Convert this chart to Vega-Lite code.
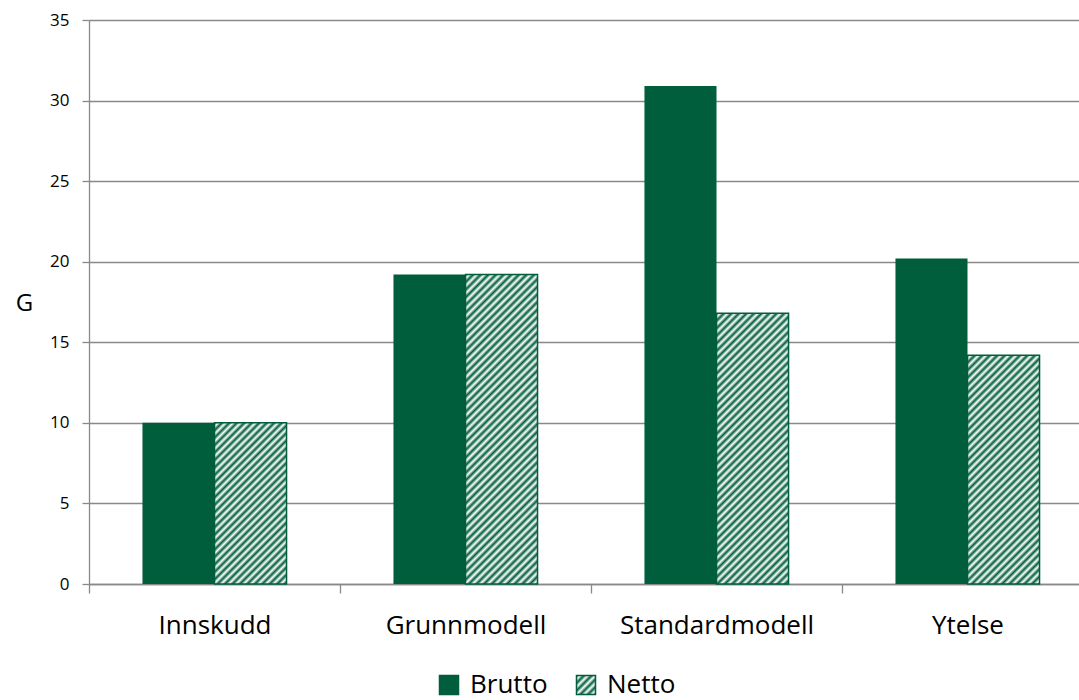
{
  "$schema": "https://vega.github.io/schema/vega-lite/v6.json",
  "autosize": "none",
  "width": 990,
  "height": 564,
  "padding": {"left": 89, "top": 20, "right": 0, "bottom": 116},
  "background": "#ffffff",
  "config": {
    "view": {"stroke": null},
    "font": "Open Sans"
  },
  "data": {
    "values": [
      {"kategori": "Innskudd", "serie": "Brutto", "verdi": 10.0},
      {"kategori": "Innskudd", "serie": "Netto", "verdi": 10.0},
      {"kategori": "Grunnmodell", "serie": "Brutto", "verdi": 19.2},
      {"kategori": "Grunnmodell", "serie": "Netto", "verdi": 19.2},
      {"kategori": "Standardmodell", "serie": "Brutto", "verdi": 30.9},
      {"kategori": "Standardmodell", "serie": "Netto", "verdi": 16.8},
      {"kategori": "Ytelse", "serie": "Brutto", "verdi": 20.2},
      {"kategori": "Ytelse", "serie": "Netto", "verdi": 14.2}
    ]
  },
  "encoding": {
    "x": {
      "field": "kategori",
      "type": "nominal",
      "sort": ["Innskudd", "Grunnmodell", "Standardmodell", "Ytelse"],
      "scale": {"paddingInner": 0.426, "paddingOuter": 0.213, "range": [0, 1004]},
      "axis": {
        "title": null,
        "labelAngle": 0,
        "labelFont": "Open Sans",
        "labelFontSize": 26,
        "labelColor": "#000000",
        "labelPadding": 19,
        "labelLimit": 0,
        "tickOffset": -125.5,
        "labelOffset": 125.5,
        "tickSize": 9,
        "tickColor": "#898989",
        "tickWidth": 1.3,
        "domainColor": "#898989",
        "domainWidth": 1.3,
        "grid": false
      }
    },
    "xOffset": {"field": "serie", "type": "nominal", "sort": ["Brutto", "Netto"]},
    "y": {
      "field": "verdi",
      "type": "quantitative",
      "scale": {"domain": [0, 35], "nice": false},
      "axis": {
        "values": [0, 5, 10, 15, 20, 25, 30, 35],
        "title": "G",
        "titleAngle": 0,
        "titleFont": "Open Sans",
        "titleFontSize": 24,
        "titleFontWeight": "normal",
        "titleColor": "#000000",
        "titleX": -65,
        "titleY": 283,
        "titleAlign": "center",
        "titleBaseline": "middle",
        "labelFont": "Open Sans",
        "labelFontSize": 17,
        "labelColor": "#000000",
        "labelPadding": 13,
        "tickSize": 7,
        "tickColor": "#898989",
        "tickWidth": 1.3,
        "domainColor": "#898989",
        "domainWidth": 1.3,
        "grid": true,
        "gridColor": "#898989",
        "gridWidth": 1.3
      }
    }
  },
  "layer": [
    {
      "mark": {"type": "bar"},
      "encoding": {
        "color": {
          "field": "serie",
          "type": "nominal",
          "scale": {
            "domain": ["Brutto", "Netto"],
            "range": [
              "#005e3c",
              {"expr": "{gradient: 'linear', x1: 0, y1: 0, x2: 1, y2: 1, stops: [{offset: 0, color: '#005e3c'}, {offset: 0.1, color: '#ffffff'}, {offset: 0.2, color: '#005e3c'}, {offset: 0.3, color: '#ffffff'}, {offset: 0.4, color: '#005e3c'}, {offset: 0.5, color: '#ffffff'}, {offset: 0.6, color: '#005e3c'}, {offset: 0.7, color: '#ffffff'}, {offset: 0.8, color: '#005e3c'}, {offset: 0.9, color: '#ffffff'}, {offset: 1, color: '#005e3c'}]}"}
            ]
          },
          "legend": {
            "title": null,
            "orient": "none",
            "direction": "horizontal",
            "legendX": 347,
            "legendY": 652,
            "symbolType": "square",
            "symbolSize": 361,
            "symbolStrokeColor": "#005e3c",
            "symbolStrokeWidth": 1.5,
            "symbolOpacity": 1,
            "labelFont": "Open Sans",
            "labelFontSize": 26,
            "labelColor": "#000000",
            "labelOffset": 8,
            "columnPadding": 25
          }
        }
      }
    },
    {
      "transform": [{"filter": "datum.serie === 'Netto'"}],
      "mark": {"type": "bar", "stroke": "#005e3c", "strokeWidth": 1.5},
      "encoding": {
        "fill": {
          "condition": [
            {
              "test": "datum.kategori === 'Innskudd'",
              "value": {
                "gradient": "linear", "x1": 0, "y1": 0, "x2": 0.539, "y2": 1.2061,
                "stops": [
                  {"offset": 0, "color": "#005e3c"}, {"offset": 0.016, "color": "#ffffff"},
                  {"offset": 0.032, "color": "#005e3c"}, {"offset": 0.048, "color": "#ffffff"},
                  {"offset": 0.064, "color": "#005e3c"}, {"offset": 0.08, "color": "#ffffff"},
                  {"offset": 0.096, "color": "#005e3c"}, {"offset": 0.112, "color": "#ffffff"},
                  {"offset": 0.128, "color": "#005e3c"}, {"offset": 0.144, "color": "#ffffff"},
                  {"offset": 0.16, "color": "#005e3c"}, {"offset": 0.176, "color": "#ffffff"},
                  {"offset": 0.192, "color": "#005e3c"}, {"offset": 0.208, "color": "#ffffff"},
                  {"offset": 0.224, "color": "#005e3c"}, {"offset": 0.24, "color": "#ffffff"},
                  {"offset": 0.256, "color": "#005e3c"}, {"offset": 0.272, "color": "#ffffff"},
                  {"offset": 0.288, "color": "#005e3c"}, {"offset": 0.304, "color": "#ffffff"},
                  {"offset": 0.32, "color": "#005e3c"}, {"offset": 0.336, "color": "#ffffff"},
                  {"offset": 0.352, "color": "#005e3c"}, {"offset": 0.368, "color": "#ffffff"},
                  {"offset": 0.384, "color": "#005e3c"}, {"offset": 0.4, "color": "#ffffff"},
                  {"offset": 0.416, "color": "#005e3c"}, {"offset": 0.432, "color": "#ffffff"},
                  {"offset": 0.448, "color": "#005e3c"}, {"offset": 0.464, "color": "#ffffff"},
                  {"offset": 0.48, "color": "#005e3c"}, {"offset": 0.496, "color": "#ffffff"},
                  {"offset": 0.512, "color": "#005e3c"}, {"offset": 0.528, "color": "#ffffff"},
                  {"offset": 0.544, "color": "#005e3c"}, {"offset": 0.56, "color": "#ffffff"},
                  {"offset": 0.576, "color": "#005e3c"}, {"offset": 0.592, "color": "#ffffff"},
                  {"offset": 0.608, "color": "#005e3c"}, {"offset": 0.624, "color": "#ffffff"},
                  {"offset": 0.64, "color": "#005e3c"}, {"offset": 0.656, "color": "#ffffff"},
                  {"offset": 0.672, "color": "#005e3c"}, {"offset": 0.688, "color": "#ffffff"},
                  {"offset": 0.704, "color": "#005e3c"}, {"offset": 0.72, "color": "#ffffff"},
                  {"offset": 0.736, "color": "#005e3c"}, {"offset": 0.752, "color": "#ffffff"},
                  {"offset": 0.768, "color": "#005e3c"}, {"offset": 0.784, "color": "#ffffff"},
                  {"offset": 0.8, "color": "#005e3c"}, {"offset": 0.816, "color": "#ffffff"},
                  {"offset": 0.832, "color": "#005e3c"}, {"offset": 0.848, "color": "#ffffff"},
                  {"offset": 0.864, "color": "#005e3c"}, {"offset": 0.88, "color": "#ffffff"},
                  {"offset": 0.896, "color": "#005e3c"}, {"offset": 0.912, "color": "#ffffff"},
                  {"offset": 0.928, "color": "#005e3c"}, {"offset": 0.944, "color": "#ffffff"},
                  {"offset": 0.96, "color": "#005e3c"}, {"offset": 0.976, "color": "#ffffff"},
                  {"offset": 0.992, "color": "#005e3c"}, {"offset": 1, "color": "#ffffff"}
                ]
              }
            },
            {
              "test": "datum.kategori === 'Grunnmodell'",
              "value": {
                "gradient": "linear", "x1": 0, "y1": 0, "x2": 0.27212, "y2": 1.16937,
                "stops": [
                  {"offset": 0, "color": "#005e3c"}, {"offset": 0.01, "color": "#ffffff"},
                  {"offset": 0.02, "color": "#005e3c"}, {"offset": 0.03, "color": "#ffffff"},
                  {"offset": 0.04, "color": "#005e3c"}, {"offset": 0.05, "color": "#ffffff"},
                  {"offset": 0.06, "color": "#005e3c"}, {"offset": 0.07, "color": "#ffffff"},
                  {"offset": 0.08, "color": "#005e3c"}, {"offset": 0.09, "color": "#ffffff"},
                  {"offset": 0.1, "color": "#005e3c"}, {"offset": 0.11, "color": "#ffffff"},
                  {"offset": 0.12, "color": "#005e3c"}, {"offset": 0.13, "color": "#ffffff"},
                  {"offset": 0.14, "color": "#005e3c"}, {"offset": 0.15, "color": "#ffffff"},
                  {"offset": 0.16, "color": "#005e3c"}, {"offset": 0.17, "color": "#ffffff"},
                  {"offset": 0.18, "color": "#005e3c"}, {"offset": 0.19, "color": "#ffffff"},
                  {"offset": 0.2, "color": "#005e3c"}, {"offset": 0.21, "color": "#ffffff"},
                  {"offset": 0.22, "color": "#005e3c"}, {"offset": 0.23, "color": "#ffffff"},
                  {"offset": 0.24, "color": "#005e3c"}, {"offset": 0.25, "color": "#ffffff"},
                  {"offset": 0.26, "color": "#005e3c"}, {"offset": 0.27, "color": "#ffffff"},
                  {"offset": 0.28, "color": "#005e3c"}, {"offset": 0.29, "color": "#ffffff"},
                  {"offset": 0.3, "color": "#005e3c"}, {"offset": 0.31, "color": "#ffffff"},
                  {"offset": 0.32, "color": "#005e3c"}, {"offset": 0.33, "color": "#ffffff"},
                  {"offset": 0.34, "color": "#005e3c"}, {"offset": 0.35, "color": "#ffffff"},
                  {"offset": 0.36, "color": "#005e3c"}, {"offset": 0.37, "color": "#ffffff"},
                  {"offset": 0.38, "color": "#005e3c"}, {"offset": 0.39, "color": "#ffffff"},
                  {"offset": 0.4, "color": "#005e3c"}, {"offset": 0.41, "color": "#ffffff"},
                  {"offset": 0.42, "color": "#005e3c"}, {"offset": 0.43, "color": "#ffffff"},
                  {"offset": 0.44, "color": "#005e3c"}, {"offset": 0.45, "color": "#ffffff"},
                  {"offset": 0.46, "color": "#005e3c"}, {"offset": 0.47, "color": "#ffffff"},
                  {"offset": 0.48, "color": "#005e3c"}, {"offset": 0.49, "color": "#ffffff"},
                  {"offset": 0.5, "color": "#005e3c"}, {"offset": 0.51, "color": "#ffffff"},
                  {"offset": 0.52, "color": "#005e3c"}, {"offset": 0.53, "color": "#ffffff"},
                  {"offset": 0.54, "color": "#005e3c"}, {"offset": 0.55, "color": "#ffffff"},
                  {"offset": 0.56, "color": "#005e3c"}, {"offset": 0.57, "color": "#ffffff"},
                  {"offset": 0.58, "color": "#005e3c"}, {"offset": 0.59, "color": "#ffffff"},
                  {"offset": 0.6, "color": "#005e3c"}, {"offset": 0.61, "color": "#ffffff"},
                  {"offset": 0.62, "color": "#005e3c"}, {"offset": 0.63, "color": "#ffffff"},
                  {"offset": 0.64, "color": "#005e3c"}, {"offset": 0.65, "color": "#ffffff"},
                  {"offset": 0.66, "color": "#005e3c"}, {"offset": 0.67, "color": "#ffffff"},
                  {"offset": 0.68, "color": "#005e3c"}, {"offset": 0.69, "color": "#ffffff"},
                  {"offset": 0.7, "color": "#005e3c"}, {"offset": 0.71, "color": "#ffffff"},
                  {"offset": 0.72, "color": "#005e3c"}, {"offset": 0.73, "color": "#ffffff"},
                  {"offset": 0.74, "color": "#005e3c"}, {"offset": 0.75, "color": "#ffffff"},
                  {"offset": 0.76, "color": "#005e3c"}, {"offset": 0.77, "color": "#ffffff"},
                  {"offset": 0.78, "color": "#005e3c"}, {"offset": 0.79, "color": "#ffffff"},
                  {"offset": 0.8, "color": "#005e3c"}, {"offset": 0.81, "color": "#ffffff"},
                  {"offset": 0.82, "color": "#005e3c"}, {"offset": 0.83, "color": "#ffffff"},
                  {"offset": 0.84, "color": "#005e3c"}, {"offset": 0.85, "color": "#ffffff"},
                  {"offset": 0.86, "color": "#005e3c"}, {"offset": 0.87, "color": "#ffffff"},
                  {"offset": 0.88, "color": "#005e3c"}, {"offset": 0.89, "color": "#ffffff"},
                  {"offset": 0.9, "color": "#005e3c"}, {"offset": 0.91, "color": "#ffffff"},
                  {"offset": 0.92, "color": "#005e3c"}, {"offset": 0.93, "color": "#ffffff"},
                  {"offset": 0.94, "color": "#005e3c"}, {"offset": 0.95, "color": "#ffffff"},
                  {"offset": 0.96, "color": "#005e3c"}, {"offset": 0.97, "color": "#ffffff"},
                  {"offset": 0.98, "color": "#005e3c"}, {"offset": 0.99, "color": "#ffffff"},
                  {"offset": 1, "color": "#005e3c"}
                ]
              }
            },
            {
              "test": "datum.kategori === 'Standardmodell'",
              "value": {
                "gradient": "linear", "x1": 0, "y1": 0, "x2": 0.31448, "y2": 1.18235,
                "stops": [
                  {"offset": 0, "color": "#005e3c"}, {"offset": 0.011, "color": "#ffffff"},
                  {"offset": 0.022, "color": "#005e3c"}, {"offset": 0.033, "color": "#ffffff"},
                  {"offset": 0.044, "color": "#005e3c"}, {"offset": 0.055, "color": "#ffffff"},
                  {"offset": 0.066, "color": "#005e3c"}, {"offset": 0.077, "color": "#ffffff"},
                  {"offset": 0.088, "color": "#005e3c"}, {"offset": 0.099, "color": "#ffffff"},
                  {"offset": 0.11, "color": "#005e3c"}, {"offset": 0.121, "color": "#ffffff"},
                  {"offset": 0.132, "color": "#005e3c"}, {"offset": 0.143, "color": "#ffffff"},
                  {"offset": 0.154, "color": "#005e3c"}, {"offset": 0.165, "color": "#ffffff"},
                  {"offset": 0.176, "color": "#005e3c"}, {"offset": 0.187, "color": "#ffffff"},
                  {"offset": 0.198, "color": "#005e3c"}, {"offset": 0.209, "color": "#ffffff"},
                  {"offset": 0.22, "color": "#005e3c"}, {"offset": 0.231, "color": "#ffffff"},
                  {"offset": 0.242, "color": "#005e3c"}, {"offset": 0.253, "color": "#ffffff"},
                  {"offset": 0.264, "color": "#005e3c"}, {"offset": 0.275, "color": "#ffffff"},
                  {"offset": 0.286, "color": "#005e3c"}, {"offset": 0.297, "color": "#ffffff"},
                  {"offset": 0.308, "color": "#005e3c"}, {"offset": 0.319, "color": "#ffffff"},
                  {"offset": 0.33, "color": "#005e3c"}, {"offset": 0.341, "color": "#ffffff"},
                  {"offset": 0.352, "color": "#005e3c"}, {"offset": 0.363, "color": "#ffffff"},
                  {"offset": 0.374, "color": "#005e3c"}, {"offset": 0.385, "color": "#ffffff"},
                  {"offset": 0.396, "color": "#005e3c"}, {"offset": 0.407, "color": "#ffffff"},
                  {"offset": 0.418, "color": "#005e3c"}, {"offset": 0.429, "color": "#ffffff"},
                  {"offset": 0.44, "color": "#005e3c"}, {"offset": 0.451, "color": "#ffffff"},
                  {"offset": 0.462, "color": "#005e3c"}, {"offset": 0.473, "color": "#ffffff"},
                  {"offset": 0.484, "color": "#005e3c"}, {"offset": 0.495, "color": "#ffffff"},
                  {"offset": 0.506, "color": "#005e3c"}, {"offset": 0.517, "color": "#ffffff"},
                  {"offset": 0.528, "color": "#005e3c"}, {"offset": 0.539, "color": "#ffffff"},
                  {"offset": 0.55, "color": "#005e3c"}, {"offset": 0.561, "color": "#ffffff"},
                  {"offset": 0.572, "color": "#005e3c"}, {"offset": 0.583, "color": "#ffffff"},
                  {"offset": 0.594, "color": "#005e3c"}, {"offset": 0.605, "color": "#ffffff"},
                  {"offset": 0.616, "color": "#005e3c"}, {"offset": 0.627, "color": "#ffffff"},
                  {"offset": 0.638, "color": "#005e3c"}, {"offset": 0.649, "color": "#ffffff"},
                  {"offset": 0.66, "color": "#005e3c"}, {"offset": 0.671, "color": "#ffffff"},
                  {"offset": 0.682, "color": "#005e3c"}, {"offset": 0.693, "color": "#ffffff"},
                  {"offset": 0.704, "color": "#005e3c"}, {"offset": 0.715, "color": "#ffffff"},
                  {"offset": 0.726, "color": "#005e3c"}, {"offset": 0.737, "color": "#ffffff"},
                  {"offset": 0.748, "color": "#005e3c"}, {"offset": 0.759, "color": "#ffffff"},
                  {"offset": 0.77, "color": "#005e3c"}, {"offset": 0.781, "color": "#ffffff"},
                  {"offset": 0.792, "color": "#005e3c"}, {"offset": 0.803, "color": "#ffffff"},
                  {"offset": 0.814, "color": "#005e3c"}, {"offset": 0.825, "color": "#ffffff"},
                  {"offset": 0.836, "color": "#005e3c"}, {"offset": 0.847, "color": "#ffffff"},
                  {"offset": 0.858, "color": "#005e3c"}, {"offset": 0.869, "color": "#ffffff"},
                  {"offset": 0.88, "color": "#005e3c"}, {"offset": 0.891, "color": "#ffffff"},
                  {"offset": 0.902, "color": "#005e3c"}, {"offset": 0.913, "color": "#ffffff"},
                  {"offset": 0.924, "color": "#005e3c"}, {"offset": 0.935, "color": "#ffffff"},
                  {"offset": 0.946, "color": "#005e3c"}, {"offset": 0.957, "color": "#ffffff"},
                  {"offset": 0.968, "color": "#005e3c"}, {"offset": 0.979, "color": "#ffffff"},
                  {"offset": 0.99, "color": "#005e3c"}, {"offset": 1, "color": "#ffffff"}
                ]
              }
            },
            {
              "test": "datum.kategori === 'Ytelse'",
              "value": {
                "gradient": "linear", "x1": 0, "y1": 0, "x2": 0.37645, "y2": 1.19628,
                "stops": [
                  {"offset": 0, "color": "#005e3c"}, {"offset": 0.0125, "color": "#ffffff"},
                  {"offset": 0.025, "color": "#005e3c"}, {"offset": 0.0375, "color": "#ffffff"},
                  {"offset": 0.05, "color": "#005e3c"}, {"offset": 0.0625, "color": "#ffffff"},
                  {"offset": 0.075, "color": "#005e3c"}, {"offset": 0.0875, "color": "#ffffff"},
                  {"offset": 0.1, "color": "#005e3c"}, {"offset": 0.1125, "color": "#ffffff"},
                  {"offset": 0.125, "color": "#005e3c"}, {"offset": 0.1375, "color": "#ffffff"},
                  {"offset": 0.15, "color": "#005e3c"}, {"offset": 0.1625, "color": "#ffffff"},
                  {"offset": 0.175, "color": "#005e3c"}, {"offset": 0.1875, "color": "#ffffff"},
                  {"offset": 0.2, "color": "#005e3c"}, {"offset": 0.2125, "color": "#ffffff"},
                  {"offset": 0.225, "color": "#005e3c"}, {"offset": 0.2375, "color": "#ffffff"},
                  {"offset": 0.25, "color": "#005e3c"}, {"offset": 0.2625, "color": "#ffffff"},
                  {"offset": 0.275, "color": "#005e3c"}, {"offset": 0.2875, "color": "#ffffff"},
                  {"offset": 0.3, "color": "#005e3c"}, {"offset": 0.3125, "color": "#ffffff"},
                  {"offset": 0.325, "color": "#005e3c"}, {"offset": 0.3375, "color": "#ffffff"},
                  {"offset": 0.35, "color": "#005e3c"}, {"offset": 0.3625, "color": "#ffffff"},
                  {"offset": 0.375, "color": "#005e3c"}, {"offset": 0.3875, "color": "#ffffff"},
                  {"offset": 0.4, "color": "#005e3c"}, {"offset": 0.4125, "color": "#ffffff"},
                  {"offset": 0.425, "color": "#005e3c"}, {"offset": 0.4375, "color": "#ffffff"},
                  {"offset": 0.45, "color": "#005e3c"}, {"offset": 0.4625, "color": "#ffffff"},
                  {"offset": 0.475, "color": "#005e3c"}, {"offset": 0.4875, "color": "#ffffff"},
                  {"offset": 0.5, "color": "#005e3c"}, {"offset": 0.5125, "color": "#ffffff"},
                  {"offset": 0.525, "color": "#005e3c"}, {"offset": 0.5375, "color": "#ffffff"},
                  {"offset": 0.55, "color": "#005e3c"}, {"offset": 0.5625, "color": "#ffffff"},
                  {"offset": 0.575, "color": "#005e3c"}, {"offset": 0.5875, "color": "#ffffff"},
                  {"offset": 0.6, "color": "#005e3c"}, {"offset": 0.6125, "color": "#ffffff"},
                  {"offset": 0.625, "color": "#005e3c"}, {"offset": 0.6375, "color": "#ffffff"},
                  {"offset": 0.65, "color": "#005e3c"}, {"offset": 0.6625, "color": "#ffffff"},
                  {"offset": 0.675, "color": "#005e3c"}, {"offset": 0.6875, "color": "#ffffff"},
                  {"offset": 0.7, "color": "#005e3c"}, {"offset": 0.7125, "color": "#ffffff"},
                  {"offset": 0.725, "color": "#005e3c"}, {"offset": 0.7375, "color": "#ffffff"},
                  {"offset": 0.75, "color": "#005e3c"}, {"offset": 0.7625, "color": "#ffffff"},
                  {"offset": 0.775, "color": "#005e3c"}, {"offset": 0.7875, "color": "#ffffff"},
                  {"offset": 0.8, "color": "#005e3c"}, {"offset": 0.8125, "color": "#ffffff"},
                  {"offset": 0.825, "color": "#005e3c"}, {"offset": 0.8375, "color": "#ffffff"},
                  {"offset": 0.85, "color": "#005e3c"}, {"offset": 0.8625, "color": "#ffffff"},
                  {"offset": 0.875, "color": "#005e3c"}, {"offset": 0.8875, "color": "#ffffff"},
                  {"offset": 0.9, "color": "#005e3c"}, {"offset": 0.9125, "color": "#ffffff"},
                  {"offset": 0.925, "color": "#005e3c"}, {"offset": 0.9375, "color": "#ffffff"},
                  {"offset": 0.95, "color": "#005e3c"}, {"offset": 0.9625, "color": "#ffffff"},
                  {"offset": 0.975, "color": "#005e3c"}, {"offset": 0.9875, "color": "#ffffff"},
                  {"offset": 1, "color": "#005e3c"}
                ]
              }
            }
          ],
          "value": "#9dbfae"
        }
      }
    }
  ]
}
